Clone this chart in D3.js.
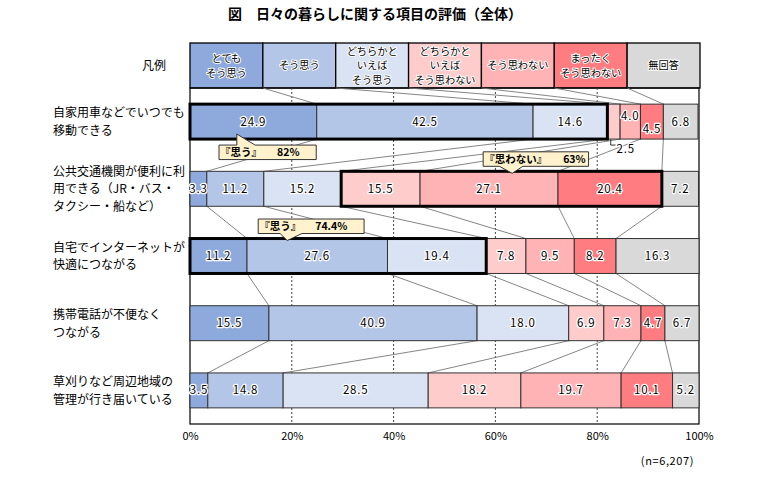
<!DOCTYPE html>
<html><head><meta charset="utf-8">
<script src="https://cdn.jsdelivr.net/npm/d3@7"></script>
<style>
body{margin:0;background:#fff}
svg{display:block}
text{font-family:"Noto Sans CJK JP","Noto Sans",sans-serif}
</style>
</head><body><svg id="c" width="757" height="487"></svg>
<script>
// ---------- data ----------
const categories = [
  "自家用車などでいつでも移動できる",
  "公共交通機関が便利に利用できる（JR・バス・タクシー・船など）",
  "自宅でインターネットが快適につながる",
  "携帯電話が不便なくつながる",
  "草刈りなど周辺地域の管理が行き届いている"
];
const categoryLines = [
  ["自家用車などでいつでも","移動できる"],
  ["公共交通機関が便利に利","用できる（JR・バス・","タクシー・船など）"],
  ["自宅でインターネットが","快適につながる"],
  ["携帯電話が不便なく","つながる"],
  ["草刈りなど周辺地域の","管理が行き届いている"]
];
const seriesNames = ["とてもそう思う","そう思う","どちらかといえばそう思う","どちらかといえばそう思わない","そう思わない","まったくそう思わない","無回答"];
const seriesLegendLines = [["とても","そう思う"],["そう思う"],["どちらかと","いえば","そう思う"],["どちらかと","いえば","そう思わない"],["そう思わない"],["まったく","そう思わない"],["無回答"]];
const veryAgree     = [24.9,  3.3, 11.2, 15.5,  3.5];
const agree         = [42.5, 11.2, 27.6, 40.9, 14.8];
const ratherAgree   = [14.6, 15.2, 19.4, 18.0, 28.5];
const ratherDisagree= [ 2.5, 15.5,  7.8,  6.9, 18.2];
const disagree      = [ 4.0, 27.1,  9.5,  7.3, 19.7];
const stronglyDis   = [ 4.5, 20.4,  8.2,  4.7, 10.1];
const noAnswer      = [ 6.8,  7.2, 16.3,  6.7,  5.2];
const tickValues = [0,20,40,60,80,100];
const tickLabels = ["0%","20%","40%","60%","80%","100%"];
const groupRows  = [0,1,2];
const groupFrom  = [0,3,0];
const groupTo    = [2,5,2];
const groupNames = ["『思う』","『思わない』","『思う』"];
const groupTotals= ["82%","63%","74.4%"];
const titleText = "図　日々の暮らしに関する項目の評価（全体）";
const noteText  = "(n=6,207)";

// ---------- style ----------
const colors = ["#8EA9DB","#B4C6E7","#DAE3F3","#FFCCCC","#FFB3B5","#FF7C80","#D9D9D9"];
const series = [veryAgree, agree, ratherAgree, ratherDisagree, disagree, stronglyDis, noAnswer];

const svg = d3.select("#c");
const L = 190, R = 699, T = 88, B = 424;
const x = d3.scaleLinear().domain([0,100]).range([L,R]);
const y = d3.scaleBand().domain(d3.range(categories.length)).range([T,B]).paddingInner(0.48).paddingOuter(0.24);
const bw = y.bandwidth();

const rows = categories.map((c,i)=>{
  let acc = 0;
  return series.map((s,k)=>{ const v = s[i]; const d = {row:i,k,v,x0:acc,x1:acc+v}; acc += v; return d; });
});

function multiline(parent, px, cy, lines, lh, size, anchor){
  const t = parent.append("text").attr("x",px).attr("font-size",size).attr("fill","#000")
    .attr("text-anchor",anchor);
  lines.forEach((s,j)=>{
    t.append("tspan").attr("x",px).attr("y",cy+(j-(lines.length-1)/2)*lh+size*0.38).text(s);
  });
  return t;
}

// title
svg.append("text").attr("x",228).attr("y",19).attr("font-size",14).attr("font-weight",700)
  .attr("fill","#000").text(titleText);

// legend
const legX = d3.scaleBand().domain(d3.range(7)).range([L,700]);
const legT = 43, legB = 88;
svg.append("text").attr("x",142).attr("y",70).attr("font-size",12).text("凡例");
const lg = svg.append("g");
seriesNames.forEach((n,k)=>{
  lg.append("rect").attr("x",legX(k)).attr("y",legT).attr("width",legX.bandwidth()).attr("height",legB-legT)
    .attr("fill",colors[k]).attr("stroke","#000").attr("stroke-width",1.3);
  multiline(lg, legX(k)+legX.bandwidth()/2, (legT+legB)/2, seriesLegendLines[k], 14.8, 10.2, "middle")
    .attr("stroke","#fff").attr("stroke-width",2).attr("paint-order","stroke").attr("stroke-linejoin","round");
});

// frame
svg.append("rect").attr("x",L).attr("y",T).attr("width",R-L).attr("height",B-T)
  .attr("fill","none").attr("stroke","#000").attr("stroke-width",1.2);

// grid lines
svg.append("g").selectAll("line").data(tickValues.filter(t=>t>0&&t<100)).join("line")
  .attr("x1",d=>x(d)).attr("x2",d=>x(d)).attr("y1",T).attr("y2",B)
  .attr("stroke","#444").attr("stroke-width",1).attr("stroke-dasharray","2,2");

// connector lines
const cg = svg.append("g").attr("stroke","#777").attr("stroke-width",0.9);
for(let k=1;k<7;k++){
  cg.append("line").attr("x1",legX(k)).attr("y1",legB).attr("x2",x(rows[0][k].x0)).attr("y2",y(0));
}
for(let i=0;i<rows.length-1;i++){
  for(let k=1;k<7;k++){
    cg.append("line").attr("x1",x(rows[i][k].x0)).attr("y1",y(i)+bw)
      .attr("x2",x(rows[i+1][k].x0)).attr("y2",y(i+1));
  }
}

// row labels
categoryLines.forEach((lines,i)=>{
  multiline(svg, 53, y(i)+bw/2, lines, 17.5, 12, "start");
});

// bars
const bg = svg.append("g");
rows.forEach(r=>{
  bg.selectAll(null).data(r).join("rect")
    .attr("x",d=>x(d.x0)).attr("y",d=>y(d.row)).attr("width",d=>x(d.x1)-x(d.x0)).attr("height",bw)
    .attr("fill",d=>colors[d.k]).attr("stroke","#333").attr("stroke-width",1);
});

// highlighted groups
groupRows.forEach((ri,g)=>{
  const a = rows[ri][groupFrom[g]].x0, b = rows[ri][groupTo[g]].x1;
  svg.append("rect").attr("x",x(a)).attr("y",y(ri)).attr("width",x(b)-x(a)).attr("height",bw)
    .attr("fill","none").attr("stroke","#000").attr("stroke-width",3);
});

// value labels
const fmt = d3.format(".1f");
const lab = svg.append("g");
function vtext(px,py,t){
  lab.append("text").attr("x",px).attr("y",py).attr("text-anchor","middle").attr("font-size",11.5)
    .attr("letter-spacing","0.8px").attr("fill","#000").attr("stroke","#fff").attr("stroke-width",2.5)
    .attr("paint-order","stroke").attr("stroke-linejoin","round").text(t);
}
rows.forEach(r=>{
  r.forEach(d=>{
    const cx = x((d.x0+d.x1)/2), cy = y(d.row)+bw/2+4;
    if(d.row===0 && d.k===3){
      const bx = x((d.x0+d.x1)/2)-3, by = y(0)+bw;
      lab.append("path").attr("d",`M${bx},${by} V${by+6} H${bx+5}`).attr("fill","none").attr("stroke","#333");
      vtext(bx+15, by+14, fmt(d.v));
    } else if(d.row===0 && d.k===4){
      vtext(cx, cy-6, fmt(d.v));
    } else if(d.row===0 && d.k===5){
      vtext(cx, cy+7, fmt(d.v));
    } else {
      vtext(cx, cy, fmt(d.v));
    }
  });
});

// callouts
const calloutBox = [[5.7,24.8],[57.6,78.3],[13.4,34.2]];
const calloutPtr = [[9.2,12.8,9.2],[60.8,65.4,63.3],[17.7,22.0,19.1]];
const totalOffset = [58,80,57];
groupRows.forEach((ri,g)=>{
  const bx0 = x(calloutBox[g][0]), bx1 = x(calloutBox[g][1]);
  const h = 14.5;
  const [p1,p2,pt] = calloutPtr[g].map(v=>x(v));
  let d, by;
  if(g===0){
    by = y(ri)+bw+6;
    const ty = y(ri)+bw-5;
    d = `M${bx0},${by} H${p1} L${pt},${ty} L${p2},${by} H${bx1} V${by+h} H${bx0} Z`;
  } else {
    by = y(ri)-19.5;
    const ty = y(ri)+2;
    d = `M${bx0},${by} H${bx1} V${by+h} H${p2} L${pt},${ty} L${p1},${by+h} H${bx0} Z`;
  }
  svg.append("path").attr("d",d).attr("fill","#FFF2CC").attr("stroke","#333").attr("stroke-width",1);
  svg.append("text").attr("x",bx0+1).attr("y",by+h/2+4).attr("font-size",10.5).attr("font-weight",700)
    .attr("fill","#000").text(groupNames[g]);
  svg.append("text").attr("x",bx0+totalOffset[g]).attr("y",by+h/2+4).attr("font-size",10.5).attr("font-weight",700)
    .attr("fill","#000").text(groupTotals[g]);
});

// axis
const ax = svg.append("g").attr("transform",`translate(0,${B})`)
  .call(d3.axisBottom(x).tickValues(tickValues).tickFormat((d,i)=>tickLabels[i]).tickSize(0).tickPadding(8));
ax.select(".domain").remove();
ax.selectAll("text").attr("font-size",11).attr("fill","#000").attr("font-family",'"Noto Sans CJK JP",sans-serif');

// note
svg.append("text").attr("x",694).attr("y",465).attr("text-anchor","end").attr("font-size",11)
  .attr("letter-spacing","0.6px").attr("fill","#000").text(noteText);
</script>
</body></html>
